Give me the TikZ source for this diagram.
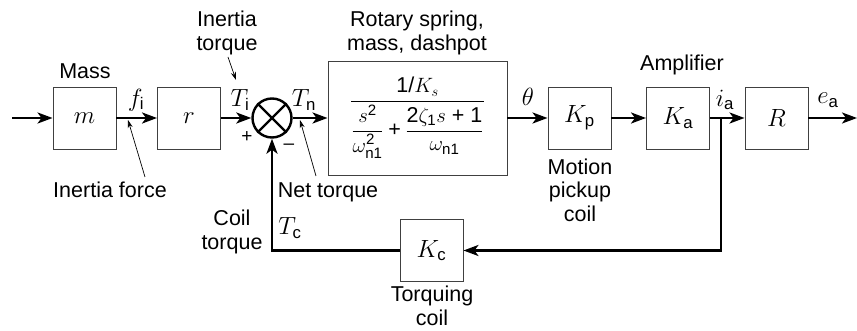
\documentclass[tikz,border=0pt]{standalone}
\usepackage{amsmath}
\usepackage{fontspec}
\setmainfont{Liberation Sans}
\usetikzlibrary{arrows.meta}
\begin{document}
\begin{tikzpicture}[x=1pt,y=-1pt,
  txt/.style={font=\fontsize{21.5}{23.5}\selectfont},
  mth/.style={font=\fontsize{24}{26}\selectfont, inner sep=0pt},
  blk/.style={draw=black!75, line width=0.9pt, minimum width=63pt, minimum height=62pt, inner sep=0pt, mth},
  sig/.style={line width=2.4pt, -{Stealth[length=15pt,width=11pt,inset=4pt]}},
  ptr/.style={line width=0.7pt, -{Stealth[length=8pt,width=5pt]}},
  lbl/.style={txt, align=center, inner sep=0pt},
  sgn/.style={font=\fontsize{19}{20}\selectfont, inner sep=0pt},
]
\useasboundingbox (0,0) rectangle (857,331);
% blocks
\coordinate (in) at (12,118);
\node[blk] (m) at (84.5,118) {$m$};
\node[blk] (r) at (189,118) {$r$};
\node[circle, draw, line width=2.4pt, minimum size=39pt, inner sep=0pt] (sum) at (272,118) {};
\draw[line width=2.4pt] (sum.north west) -- (sum.south east) (sum.north east) -- (sum.south west);
\node[blk, txt, minimum width=179pt, minimum height=114pt] (sys) at (417.5,118)
  {$\dfrac{\text{1/}K_s}{\dfrac{s^{\text{2}}}{\omega_\text{n1}^{\text{2}}}\mathbin{\text{+}}\dfrac{\text{2}\zeta_{\text{1}}s\text{ + 1}}{\omega_\text{n1}}}$};
\node[blk] (kp) at (579.5,118) {$K_\text{p}$};
\node[blk] (ka) at (678,118) {$K_\text{a}$};
\node[blk] (R) at (776.5,118) {$R$};
\coordinate (out) at (857,118);
\coordinate (br) at (721,118);
\node[blk] (kc) at (431.5,250.5) {$K_\text{c}$};
% signals
\draw[sig] (in) -- (m);
\draw[sig] (m) -- (r);
\draw[sig] (r) -- (sum);
\draw[sig] (sum) -- (sys);
\draw[sig] (sys) -- (kp);
\draw[sig] (kp) -- (ka);
\draw[sig] (ka) -- (R);
\draw[sig] (R) -- (out);
\draw[sig] (br) |- (kc.east);
\draw[sig] (kc.west) -| (sum.south);
% labels
\node[lbl] at (85,71) {Mass};
\node[mth] at (136,100) {$f_\text{i}$};
\node[lbl] at (227,33) {Inertia\\torque};
\node[mth] at (240,100) {$T_\text{i}$};
\node[sgn] at (247,137) {+};
\node[sgn] at (289,147) {\textendash};
\node[mth] at (304,100) {$T_\text{n}$};
\node[lbl] at (417,33) {Rotary spring,\\mass, dashpot};
\node[mth] at (528,97) {$\theta$};
\node[lbl] at (682,65) {Amplifier};
\node[mth] at (725,100) {$i_\text{a}$};
\node[mth] at (828,100) {$e_\text{a}$};
\node[lbl] at (580,190) {Motion\\pickup\\coil};
\node[lbl] at (110,190) {Inertia force};
\node[lbl] at (328,192) {Net torque};
\node[lbl] at (232,232) {Coil\\torque};
\node[mth] at (290,228) {$T_\text{c}$};
\node[lbl] at (432,306) {Torquing\\coil};
% pointers
\coordinate (p1s) at (145,177); \coordinate (p1e) at (128,120);
\coordinate (p2s) at (228,57);  \coordinate (p2e) at (236,80);
\coordinate (p3s) at (316,176); \coordinate (p3e) at (300,120);
\draw[ptr] (p1s) -- (p1e);
\draw[ptr] (p2s) -- (p2e);
\draw[ptr] (p3s) -- (p3e);
\end{tikzpicture}
\end{document}
